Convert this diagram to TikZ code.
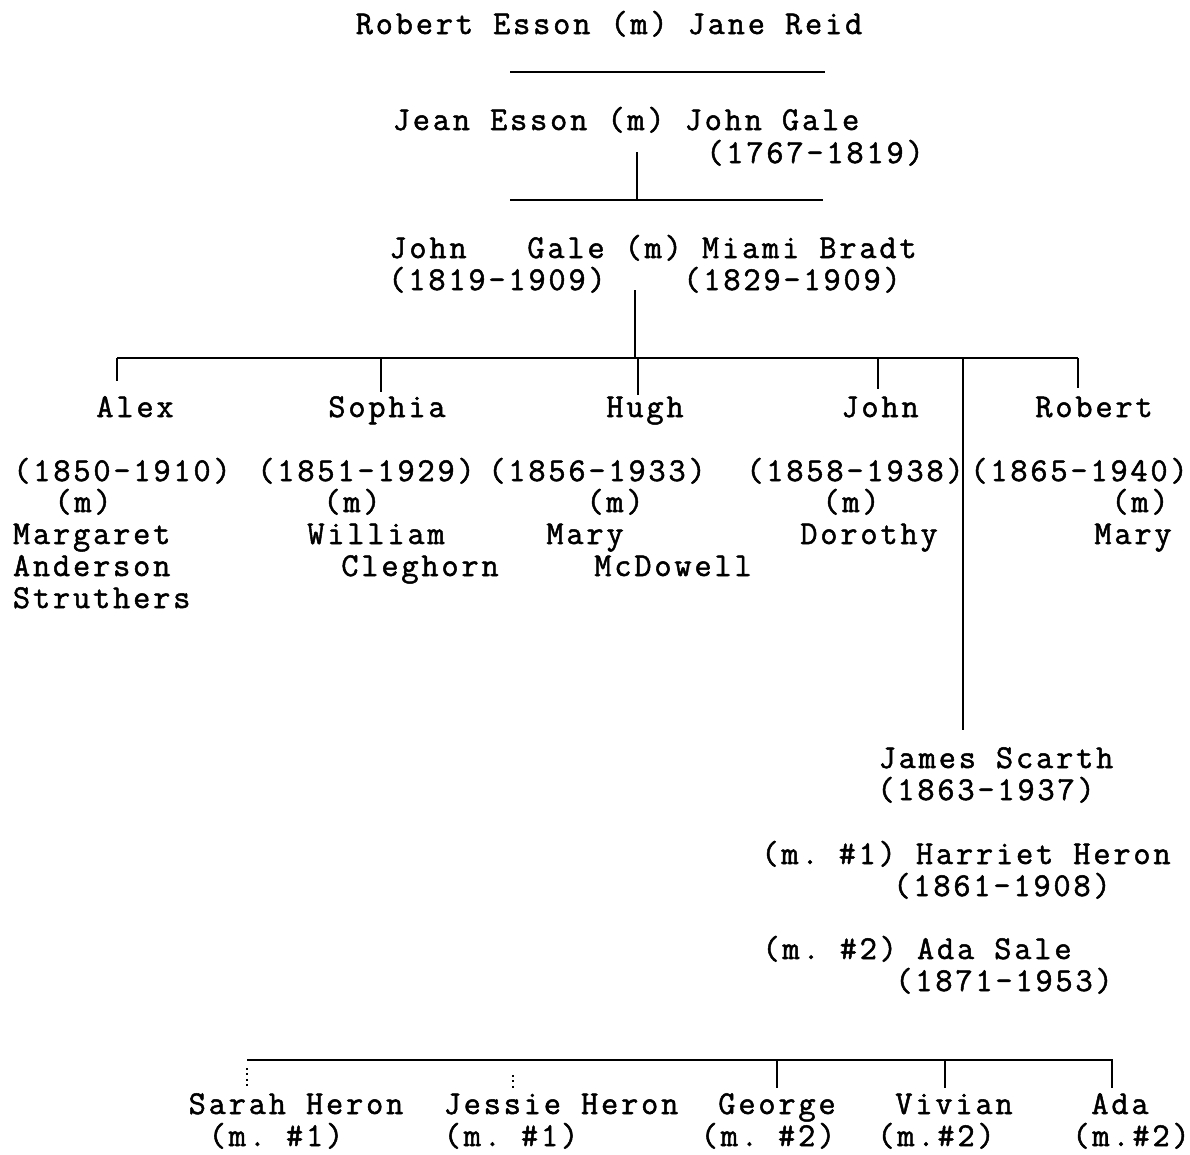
\documentclass[tikz,border=0pt]{standalone}
\usepackage{fontspec}
\setmonofont[LetterSpace=8.5,FakeBold=1.5]{Latin Modern Mono}

\begin{document}
\begin{tikzpicture}[x=0.02cm,y=-0.02cm,line width=1.1pt,
    every node/.style={inner sep=0pt,anchor=base,font=\ttfamily\fontsize{19}{22}\selectfont},
    lftname/.style={anchor=base west}]
    \useasboundingbox (0,0) rectangle (1190,1154);

    %Esson
    \node (esson) at (609,34) {Robert Esson (m) Jane Reid};
    \coordinate (essonbarL) at (510,72);
    \coordinate (essonbarR) at (825,72);
    \draw (essonbarL) -- (essonbarR);

    %Jean Esson
    \node (jean) at (626,130) {Jean Esson (m) John Gale};
    \node (jeandates) at (815,163) {(1767-1819)};
    \coordinate (jeantop) at (637,152);
    \coordinate (jeanbarL) at (510,200);
    \coordinate (jeanbarR) at (823,200);
    \draw (jeanbarL) -- (jeanbarR);
    \draw (jeantop) -- (jeantop |- jeanbarL);

    %John Gale
    \node (galeA) at (428,258) {John};
    \node (galeB) at (722,258) {Gale (m) Miami Bradt};
    \node (galedatesA) at (497,290) {(1819-1909)};
    \node (galedatesB) at (792,290) {(1829-1909)};
    \coordinate (galetop) at (635,290);
    \coordinate (kidsbarL) at (117,358);
    \coordinate (kidsbarR) at (1078,358);
    \draw (galetop) -- (galetop |- kidsbarL);
    \draw (kidsbarL) -- (kidsbarR);

    %Ticks
    \coordinate (alextick) at (117,381);
    \coordinate (sophiatick) at (381,392);
    \coordinate (hughtick) at (638,395);
    \coordinate (johntick) at (878,389);
    \coordinate (roberttick) at (1078,388);
    \coordinate (jamestop) at (963,730);
    \draw (alextick |- kidsbarL) -- (alextick);
    \draw (sophiatick |- kidsbarL) -- (sophiatick);
    \draw (hughtick |- kidsbarL) -- (hughtick);
    \draw (johntick |- kidsbarL) -- (johntick);
    \draw (roberttick |- kidsbarL) -- (roberttick);
    \draw (jamestop |- kidsbarL) -- (jamestop);

    %Enfants
    \node (alex) at (135,417) {Alex};
    \node (alexdates) at (122,481) {(1850-1910)};
    \node (alexm) at (83,512) {(m)};
    \node[lftname] (alexsp1) at (12,544) {Margaret};
    \node[lftname] (alexsp2) at (12,576) {Anderson};
    \node[lftname] (alexsp3) at (12,608) {Struthers};

    \node (sophia) at (387,417) {Sophia};
    \node (sophiadates) at (366,481) {(1851-1929)};
    \node (sophiam) at (352,512) {(m)};
    \node (sophiasp1) at (376,544) {William};
    \node (sophiasp2) at (420,576) {Cleghorn};

    \node (hugh) at (645,417) {Hugh};
    \node (hughdates) at (597,481) {(1856-1933)};
    \node (hughm) at (615,512) {(m)};
    \node (hughsp1) at (585,544) {Mary};
    \node (hughsp2) at (673,576) {McDowell};

    \node (john) at (880,417) {John};
    \node (johndates) at (855,481) {(1858-1938)};
    \node (johnm) at (851,512) {(m)};
    \node (johnsp1) at (869,544) {Dorothy};

    \node (robert) at (1094,417) {Robert};
    \node (robertdates) at (1079,481) {(1865-1940)};
    \node (robertm) at (1140,512) {(m)};
    \node (robertsp1) at (1133,544) {Mary};

    %James Scarth
    \node (james) at (996,768) {James Scarth};
    \node (jamesdates) at (986,800) {(1863-1937)};
    \node (harriet) at (966,864) {(m. \#1) Harriet Heron};
    \node (harrietdates) at (1002,896) {(1861-1908)};
    \node (adasale) at (917,959) {(m. \#2) Ada Sale};
    \node (adasaledates) at (1004,991) {(1871-1953)};

    %Petits-enfants
    \coordinate (gkbarL) at (247,1060);
    \coordinate (gkbarR) at (1113,1060);
    \draw (gkbarL) -- (gkbarR);
    \coordinate (sarahtick) at (247,1088);
    \coordinate (jessietick) at (513,1088);
    \coordinate (georgetick) at (777,1088);
    \coordinate (viviantick) at (945,1088);
    \coordinate (adatick) at (1112,1088);
    \draw[dotted] (247,1068) -- (sarahtick);
    \draw[dotted] (513,1075) -- (jessietick);
    \draw (georgetick |- gkbarL) -- (georgetick);
    \draw (viviantick |- gkbarL) -- (viviantick);
    \draw (adatick |- gkbarL) -- (adatick);

    \node (sarah) at (296,1114) {Sarah Heron};
    \node (sarahm) at (276,1146) {(m. \#1)};
    \node (jessie) at (561,1114) {Jessie Heron};
    \node (jessiem) at (511,1146) {(m. \#1)};
    \node (george) at (777,1114) {George};
    \node (georgem) at (768,1146) {(m. \#2)};
    \node (vivian) at (954,1114) {Vivian};
    \node (vivianm) at (936,1146) {(m.\#2)};
    \node (ada) at (1120,1114) {Ada};
    \node (adam) at (1131,1146) {(m.\#2)};
\end{tikzpicture}
\end{document}
